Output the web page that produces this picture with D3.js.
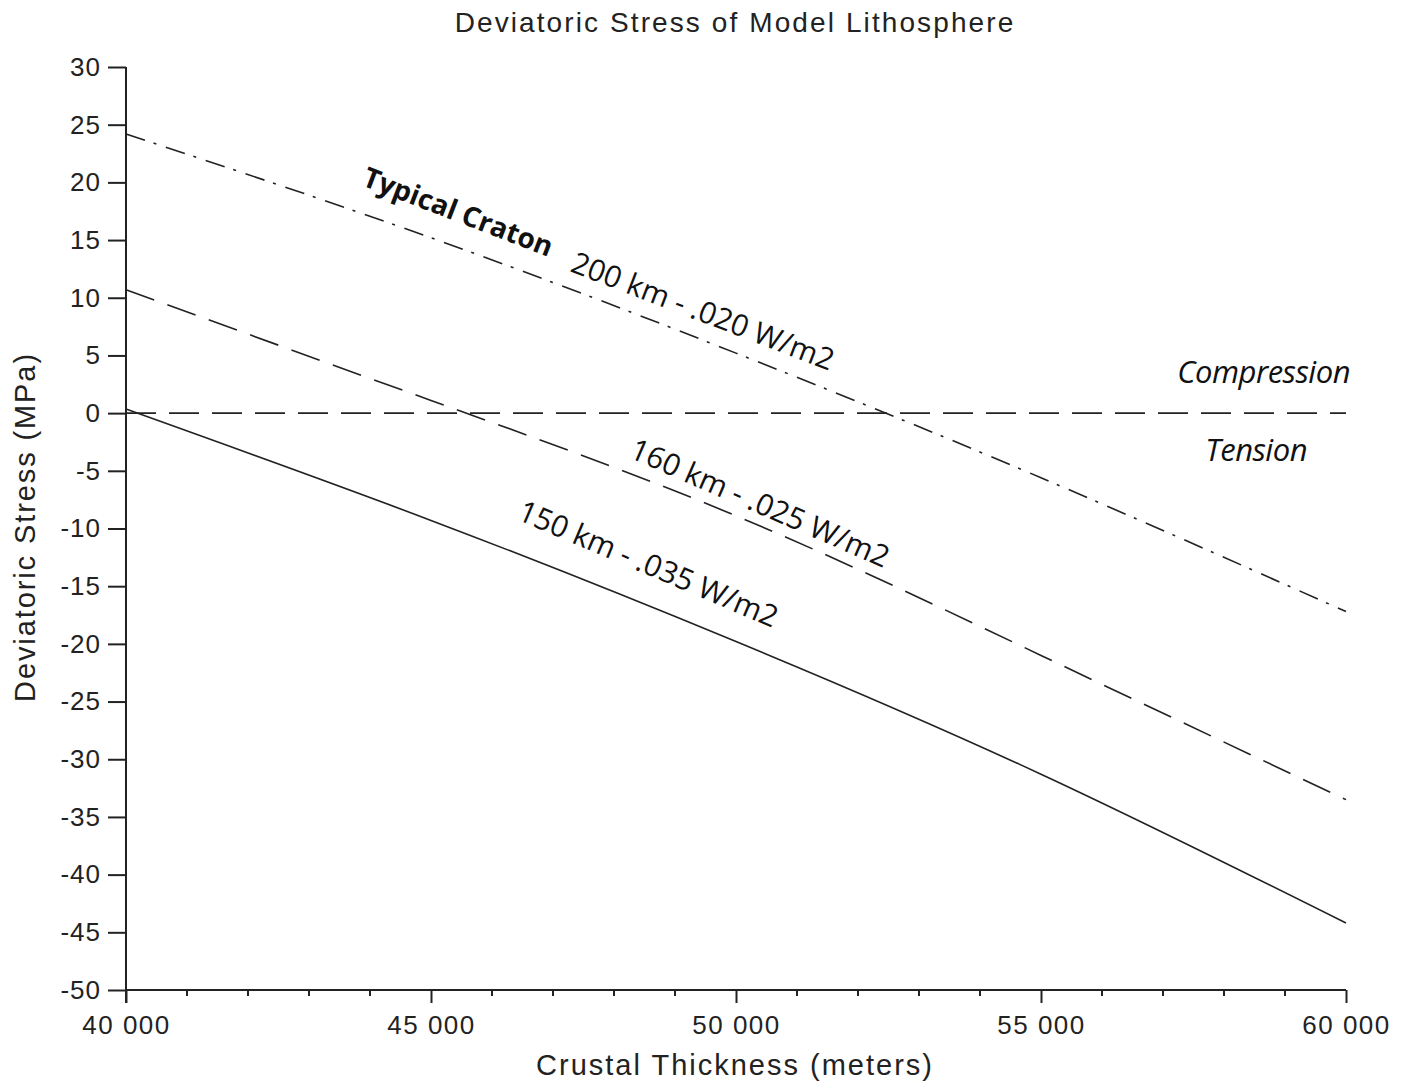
<!DOCTYPE html>
<html>
<head>
<meta charset="utf-8">
<script src="https://cdn.jsdelivr.net/npm/d3@7"></script>
<style>
  html, body { margin: 0; padding: 0; background: #fff; }
  svg { display: block; }
  .axis-text { font-family: "Liberation Sans", Arial, sans-serif; fill: #222; }
  .note { font-family: "Open Sans", "Noto Sans", sans-serif; fill: #111; }
</style>
</head>
<body>
<svg id="chart" width="1406" height="1083"></svg>
<script>
// Crustal thickness (m) at which each model was evaluated
const thickness = [40000, 45000, 50000, 55000, 60000];

// Deviatoric stress (MPa) for each lithosphere model
const craton200 = [24.2, 15.2, 5.2, -5.6, -17.2];   // 200 km - .020 W/m2
const litho160 = [10.7, 1.1, -8.9, -21.0, -33.5];   // 160 km - .025 W/m2
const litho150 = [0.35, -9.3, -19.8, -31.3, -44.2]; // 150 km - .035 W/m2

// Axis ticks
const xMajorTicks = [40000, 45000, 50000, 55000, 60000];
const xTickLabels = ["40 000", "45 000", "50 000", "55 000", "60 000"];
const yTicks = [30, 25, 20, 15, 10, 5, 0, -5, -10, -15, -20, -25, -30, -35, -40, -45, -50];

const svg = d3.select("#chart");
const plotLeft = 126, plotRight = 1346, plotTop = 67, plotBottom = 990;

const x = d3.scaleLinear().domain([40000, 60000]).range([plotLeft, plotRight]);
const y = d3.scaleLinear().domain([-50, 30]).range([plotBottom, plotTop]);

// Title
svg.append("text")
  .attr("class", "axis-text")
  .attr("x", 735).attr("y", 32)
  .attr("text-anchor", "middle")
  .style("font-size", "28px")
  .style("letter-spacing", "2.1px")
  .text("Deviatoric Stress of Model Lithosphere");

// X axis: major ticks with labels, minor ticks every 1000 m
const xAxis = d3.axisBottom(x)
  .tickValues(xMajorTicks)
  .tickSize(13)
  .tickPadding(13)
  .tickFormat((d, i) => xTickLabels[i]);
const gx = svg.append("g").attr("transform", `translate(0,${plotBottom})`).call(xAxis);
gx.select(".domain").attr("d", `M${plotLeft},0H${plotRight}`).attr("stroke", "#222").attr("stroke-width", 2);
gx.selectAll(".tick line").attr("stroke", "#222").attr("stroke-width", 2);
gx.selectAll(".tick text").attr("class", "axis-text")
  .style("font-size", "26px").style("letter-spacing", "1.5px").attr("fill", "#222");

const minor = d3.range(40000, 60001, 1000).filter(v => v % 5000 !== 0);
svg.append("g").selectAll("line").data(minor).join("line")
  .attr("x1", d => x(d)).attr("x2", d => x(d))
  .attr("y1", plotBottom).attr("y2", plotBottom + 6)
  .attr("stroke", "#222").attr("stroke-width", 2);

// Y axis
const yAxis = d3.axisLeft(y)
  .tickValues(yTicks)
  .tickSize(18)
  .tickPadding(7)
  .tickFormat(d => String(d));
const gy = svg.append("g").attr("transform", `translate(${plotLeft},0)`).call(yAxis);
gy.select(".domain").attr("d", `M0,${plotTop}V${plotBottom + 13}`).attr("stroke", "#222").attr("stroke-width", 2);
gy.selectAll(".tick line").attr("stroke", "#222").attr("stroke-width", 2);
gy.selectAll(".tick text").attr("class", "axis-text")
  .style("font-size", "26px").style("letter-spacing", "1px").attr("fill", "#222");

// Axis titles
svg.append("text")
  .attr("class", "axis-text")
  .attr("x", 735).attr("y", 1075)
  .attr("text-anchor", "middle")
  .style("font-size", "29px")
  .style("letter-spacing", "2px")
  .text("Crustal Thickness (meters)");

svg.append("text")
  .attr("class", "axis-text")
  .attr("transform", "translate(35,527) rotate(-90)")
  .attr("text-anchor", "middle")
  .style("font-size", "29px")
  .style("letter-spacing", "1.9px")
  .text("Deviatoric Stress (MPa)");

// Zero-stress reference line
svg.append("line")
  .attr("x1", x(40000)).attr("x2", x(60000))
  .attr("y1", y(0)).attr("y2", y(0))
  .attr("stroke", "#222").attr("stroke-width", 1.6)
  .attr("stroke-dasharray", "30,13");

// Stress curves
const line = d3.line()
  .x((d, i) => x(thickness[i]))
  .y(d => y(d))
  .curve(d3.curveNatural);
const series = [
  { values: craton200, dash: "20,9,3,10" },
  { values: litho160, dash: "30,14" },
  { values: litho150, dash: null }
];
svg.append("g").selectAll("path").data(series).join("path")
  .attr("d", d => line(d.values))
  .attr("fill", "none")
  .attr("stroke", "#222")
  .attr("stroke-width", 1.6)
  .attr("stroke-dasharray", d => d.dash);

// Curve annotations
const notes = [
  { text: "Typical Craton", px: 361, py: 185, angle: 21, weight: 700, size: 28 },
  { text: "200 km - .020 W/m2", px: 569, py: 271, angle: 21, weight: 400, size: 30 },
  { text: "160 km - .025 W/m2", px: 628, py: 457, angle: 23.5, weight: 400, size: 30 },
  { text: "150 km - .035 W/m2", px: 516, py: 519, angle: 23, weight: 400, size: 30 }
];
svg.append("g").selectAll("text").data(notes).join("text")
  .attr("class", "note")
  .attr("transform", d => `translate(${d.px},${d.py}) rotate(${d.angle})`)
  .style("font-size", d => d.size + "px")
  .style("font-weight", d => d.weight)
  .text(d => d.text);

svg.append("text").attr("class", "note")
  .attr("x", 1350).attr("y", 383)
  .attr("text-anchor", "end")
  .style("font-size", "31px").style("font-style", "italic")
  .style("letter-spacing", "-0.5px")
  .text("Compression");
svg.append("text").attr("class", "note")
  .attr("x", 1307).attr("y", 461)
  .attr("text-anchor", "end")
  .style("font-size", "31px").style("font-style", "italic")
  .style("letter-spacing", "-0.5px")
  .text("Tension");
</script>
</body>
</html>
